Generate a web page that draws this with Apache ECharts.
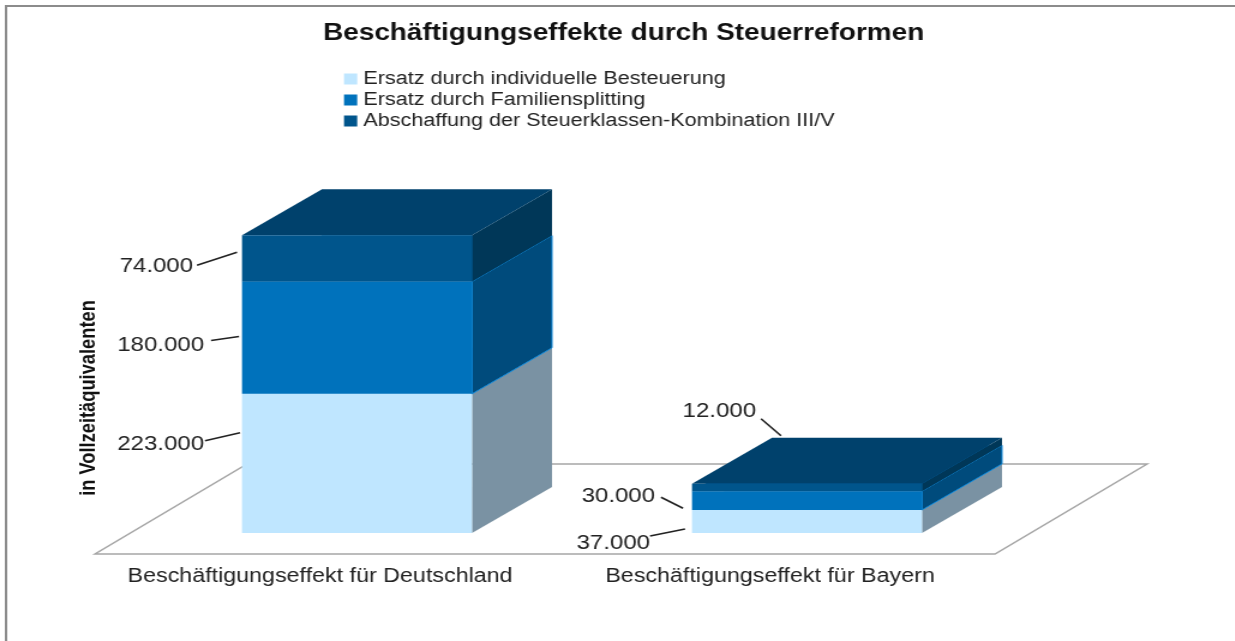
<!DOCTYPE html>
<html>
<head>
<meta charset="utf-8">
<title>Beschäftigungseffekte durch Steuerreformen</title>
<script src="https://cdn.jsdelivr.net/npm/echarts@6/dist/echarts.min.js"></script>
<style>
  html, body { margin: 0; padding: 0; background: #fff; overflow: hidden; }
  /* die Vorlage ist waagerecht gestreckt, also das ganze Chart mitstrecken */
  #main { position: absolute; left: 0; top: 0; width: 1029.17px; height: 641px; transform: scaleX(1.2); transform-origin: 0 0; }
</style>
</head>
<body>
<div id="main"></div>
<script>
// Daten
var categories = ['Beschäftigungseffekt für Deutschland', 'Beschäftigungseffekt für Bayern'];
var seriesNames = ['Ersatz durch individuelle Besteuerung', 'Ersatz durch Familiensplitting', 'Abschaffung der Steuerklassen-Kombination III/V'];
var individuell = [223000, 37000];
var familie = [180000, 30000];
var abschaffung = [74000, 12000];
var values = [individuell, familie, abschaffung];

// Farben: Vorderseite, Seite, Oberseite
var frontColors = ['#BFE6FF', '#0072BC', '#00558C'];
var sideColors = ['#7A92A3', '#004B7C', '#003758'];
var topColors = ['#BFE6FF', '#0072BC', '#00416C'];
var edgeColors = ['#BFE6FF', '#0A86D8', '#00558C'];

var STRETCH = 1.2;
var sx = function (px) { return px / STRETCH; };

// Leader-Linien und Beschriftung, Versatz in Bildpixeln zur linken oberen Ecke des Segments
// [Linie x0, y0, x1, y1, Text rechts, Text Mitte y]
var leaders = [
  [[-37, 47, -2, 39, -38, 51], [-42, 26, -7, 19, -42, 34]],
  [[-31, 59, -3, 55, -38, 64], [-31, 6, -9, 17, -37, 5]],
  [[-45, 30, -5, 17, -49, 31], [69, -65, 89, -48, 64, -72]]
];

var myChart = echarts.init(document.getElementById('main'));

// Boden der Grafik
function renderFloor(params, api) {
  var cs = params.coordSys;
  var y0 = cs.y + cs.height;
  var dx = sx(152), dy = 90;
  return {
    type: 'polygon',
    shape: { points: [[cs.x, y0], [cs.x + cs.width, y0], [cs.x + cs.width + dx, y0 - dy], [cs.x + dx, y0 - dy]] },
    style: { fill: '#fff', stroke: '#a6a6a6', lineWidth: 1.5 }
  };
}

// 3D-Segment: Vorderseite, Seite, Oberseite, Linie und Wert
function makeRender(s) {
  return function (params, api) {
    var cat = api.value(0);
    var lo = api.coord([cat, api.value(1)]);
    var hi = api.coord([cat, api.value(2)]);
    var w = sx(230), depthX = sx(80), depthY = 46;
    var left = lo[0] + sx(37) - w / 2, right = left + w;
    var yb = lo[1] - 21, yt = hi[1] - 21;
    var l = leaders[s][cat];
    var text = api.value(3).toLocaleString('de-DE');
    return {
      type: 'group',
      children: [
        { type: 'polygon', shape: { points: [[right, yb], [right + depthX, yb - depthY], [right + depthX, yt - depthY], [right, yt]] },
          style: { fill: sideColors[s], stroke: edgeColors[s], lineWidth: s === 1 ? 1 : 0 } },
        { type: 'polygon', shape: { points: [[left, yt], [right, yt], [right + depthX, yt - depthY], [left + depthX, yt - depthY]] },
          style: { fill: topColors[s] } },
        { type: 'rect', shape: { x: left, y: yt, width: w, height: yb - yt }, style: { fill: frontColors[s] } },
        { type: 'line', shape: { x1: left + sx(l[0]), y1: yt + l[1], x2: left + sx(l[2]), y2: yt + l[3] },
          style: { stroke: '#222', lineWidth: 1.6 } },
        { type: 'text', x: left + sx(l[4]), y: yt + l[5],
          style: { text: text, align: 'right', verticalAlign: 'middle', fill: '#222', font: '20px "Liberation Sans"' } }
      ]
    };
  };
}

var series = [{
  type: 'custom', silent: true, z: 1, clip: false,
  renderItem: renderFloor,
  data: [[0]],
  encode: { x: 0 }
}];
var stack = categories.map(function () { return 0; });
seriesNames.forEach(function (name, s) {
  var data = categories.map(function (c, i) {
    var row = [i, stack[i], stack[i] + values[s][i], values[s][i]];
    stack[i] += values[s][i];
    return row;
  });
  series.push({
    name: name,
    type: 'custom',
    z: 2 + s,
    clip: false,
    itemStyle: { color: frontColors[s] },
    renderItem: makeRender(s),
    encode: { x: 0, y: [1, 2] },
    data: data
  });
});

var option = {
  animation: false,
  backgroundColor: '#fff',
  textStyle: { fontFamily: '"Liberation Sans"' },
  title: {
    text: 'Beschäftigungseffekte durch Steuerreformen',
    left: sx(323),
    top: 22,
    padding: 0,
    textStyle: { color: '#111', fontSize: 23.3, fontWeight: 'bold', fontFamily: '"Liberation Sans"' }
  },
  legend: {
    data: seriesNames,
    orient: 'vertical',
    left: sx(344),
    top: 70,
    padding: 0,
    itemWidth: 11,
    itemHeight: 11,
    itemGap: 3,
    icon: 'rect',
    selectedMode: false,
    textStyle: { color: '#222', fontSize: 18, fontFamily: '"Liberation Sans"' }
  },
  grid: { left: sx(95), top: 242, width: sx(900), height: 312 },
  xAxis: {
    type: 'category',
    data: categories,
    axisLine: { show: false },
    axisTick: { show: false },
    axisLabel: { color: '#222', fontSize: 19.4, margin: 13, interval: 0 }
  },
  yAxis: {
    type: 'value',
    min: 0,
    max: 500000,
    name: 'in Vollzeitäquivalenten',
    nameLocation: 'middle',
    nameGap: -4,
    nameTextStyle: { color: '#111', fontSize: 18.3, fontWeight: 'bold', fontFamily: '"Liberation Sans"' },
    axisLine: { show: false },
    axisTick: { show: false },
    axisLabel: { show: false },
    splitLine: { show: false }
  },
  graphic: [{
    type: 'polyline',
    silent: true,
    shape: { points: [[5, 641], [5, 6], [1030, 6]] },
    style: { fill: 'none', stroke: '#8c8c8c', lineWidth: 2 }
  }],
  series: series
};
myChart.setOption(option);
</script>
</body>
</html>
